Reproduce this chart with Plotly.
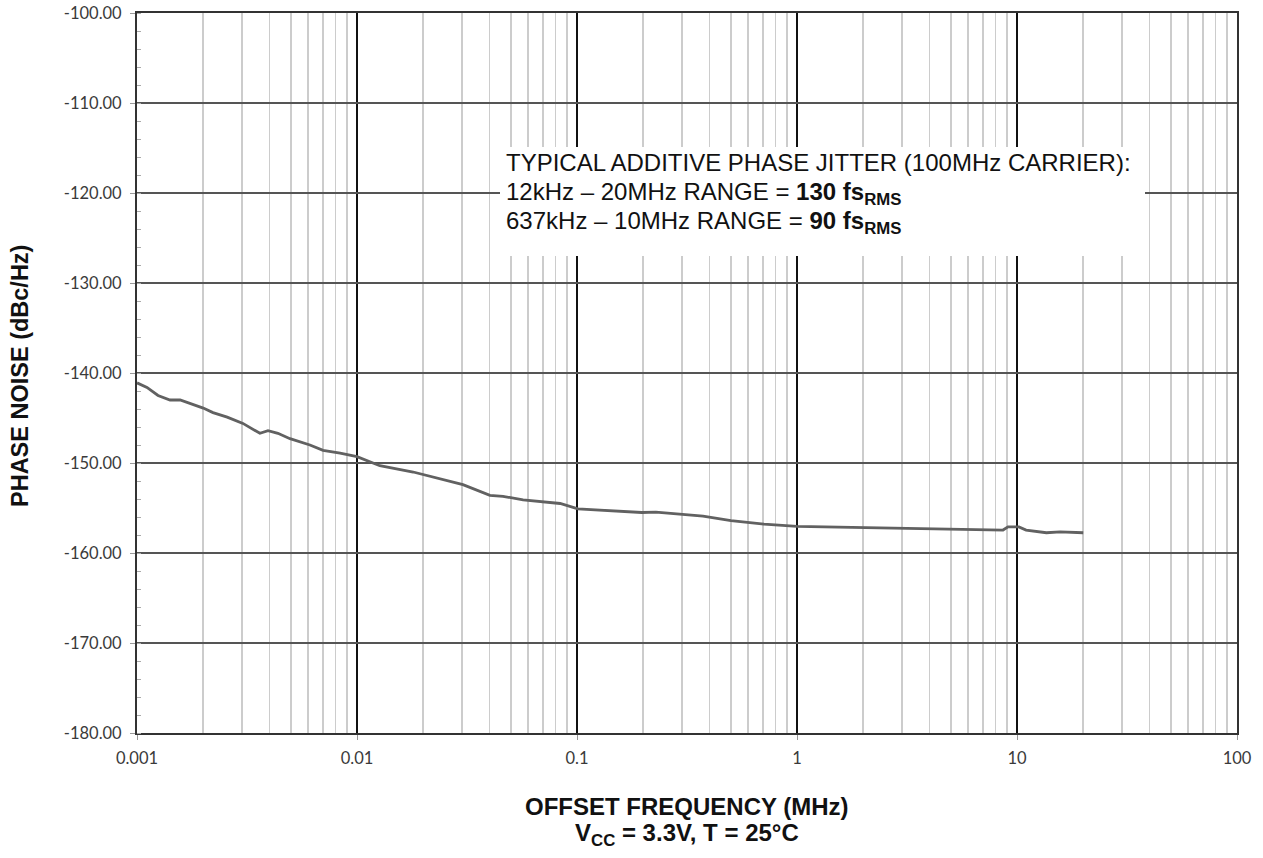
import plotly.graph_objects as go

# Phase noise curve (offset frequency in MHz, phase noise in dBc/Hz)
freq_mhz = [0.001, 0.00111, 0.001246, 0.001413, 0.00157, 0.00174, 0.002, 0.002215,
            0.00257, 0.00303, 0.00362, 0.00394, 0.00437, 0.00496, 0.00611, 0.00701,
            0.00838, 0.01, 0.0127, 0.018, 0.0257, 0.0303, 0.0402, 0.0461, 0.0569,
            0.0838, 0.101, 0.147, 0.197, 0.2285, 0.374, 0.501, 0.708, 1.0, 2.02,
            4.24, 8.64, 9.1, 10.2, 11.0, 13.6, 15.7, 20.0]
phase_noise = [-141.1, -141.6, -142.5, -143.0, -143.0, -143.4, -143.9, -144.4,
               -144.9, -145.6, -146.7, -146.4, -146.7, -147.3, -148.0, -148.6,
               -148.9, -149.3, -150.3, -151.0, -151.9, -152.4, -153.6, -153.7, -154.1,
               -154.5, -155.1, -155.3, -155.5, -155.45, -155.9, -156.4, -156.8, -157.05, -157.2,
               -157.35, -157.45, -157.1, -157.1, -157.45, -157.75, -157.65, -157.75]

x_tickvals = [0.001, 0.01, 0.1, 1, 10, 100]
x_ticktext = ["0.001", "0.01", "0.1", "1", "10", "100"]
x_minor = [m * d for d in [0.001, 0.01, 0.1, 1, 10] for m in range(2, 10)]

y_tickvals = [-100, -110, -120, -130, -140, -150, -160, -170, -180]
y_ticktext = ["-100.00", "-110.00", "-120.00", "-130.00", "-140.00",
              "-150.00", "-160.00", "-170.00", "-180.00"]

annotation_lines = [
    "TYPICAL ADDITIVE PHASE JITTER (100MHz CARRIER):",
    "12kHz – 20MHz RANGE = <b>130 fs</b><sub><b>RMS</b></sub>",
    "637kHz – 10MHz RANGE = <b>90 fs</b><sub><b>RMS</b></sub>",
]
x_title = "<b>OFFSET FREQUENCY (MHz)</b>"
x_subtitle = "<b>V<sub>CC</sub> = 3.3V, T = 25°C</b>"
y_title = "<b>PHASE NOISE (dBc/Hz)</b>"

W, H = 1263, 858
PL, PR, PT, PB = 137, 1237, 13, 733  # plot area in window pixels
pw, ph = PR - PL, PB - PT


def px(x):
    return (x - PL) / pw


def py(y):
    return 1 - (y - PT) / ph


fig = go.Figure()
fig.add_trace(go.Scatter(x=freq_mhz, y=phase_noise, mode="lines",
                         line=dict(color="#616161", width=2.8), showlegend=False))

fig.update_layout(
    width=W, height=H,
    margin=dict(l=PL, r=W - PR, t=PT, b=H - PB),
    paper_bgcolor="white", plot_bgcolor="white",
    font=dict(family="Lato", size=16.5, color="#3a3a3a"),
    xaxis=dict(type="log", range=[-3, 2], tickmode="array", tickvals=x_tickvals,
               ticktext=x_ticktext, showgrid=True, gridcolor="#111111", gridwidth=2,
               showline=True, linecolor="#333333", linewidth=2, mirror=True,
               ticks="outside", ticklen=5, tickcolor="#999999", zeroline=False,
               automargin=False, ticklabelstandoff=4,
               minor=dict(tickmode="array", tickvals=x_minor, showgrid=True,
                          gridcolor="#cccccc", gridwidth=1.6, ticks="")),
    yaxis=dict(range=[-180, -100], tickmode="array", tickvals=y_tickvals,
               ticktext=y_ticktext,
               showgrid=True, gridcolor="#555555", gridwidth=1.5,
               showline=True, linecolor="#333333", linewidth=2, mirror=True,
               ticks="outside", ticklen=5, tickcolor="#999999", zeroline=False,
               automargin=False, ticklabelstandoff=5,
               minor=dict(dtick=2, tick0=-100, ticks="inside", ticklen=4,
                          tickcolor="#aaaaaa", showgrid=False)),
)

fig.add_shape(type="rect", xref="paper", yref="paper",
              x0=px(500), x1=px(1145), y0=py(256), y1=py(147),
              fillcolor="white", line=dict(width=0), layer="above")

for line, yc in zip(annotation_lines, [162.5, 193.0, 222.5]):
    fig.add_annotation(xref="paper", yref="paper", x=px(504), y=py(yc),
                       xanchor="left", yanchor="middle", align="left", showarrow=False,
                       text=line,
                       font=dict(family="Liberation Sans, Arial", size=24, color="#111111"))

fig.add_annotation(xref="paper", yref="paper", x=px(20), y=py(376),
                   xanchor="center", yanchor="middle", textangle=-90, showarrow=False,
                   text=y_title,
                   font=dict(family="Liberation Sans, Arial", size=23.5, color="#111111"))

fig.add_annotation(xref="paper", yref="paper", x=px(687), y=py(806),
                   xanchor="center", yanchor="middle", showarrow=False,
                   text=x_title,
                   font=dict(family="Liberation Sans, Arial", size=24, color="#111111"))
fig.add_annotation(xref="paper", yref="paper", x=px(687), y=py(834),
                   xanchor="center", yanchor="middle", showarrow=False,
                   text=x_subtitle,
                   font=dict(family="Liberation Sans, Arial", size=24, color="#111111"))

fig.write_html("out.html",
               config={"displayModeBar": False, "staticPlot": True},
               post_script="document.body.style.margin='0';"
                           "document.body.style.overflow='hidden';")
